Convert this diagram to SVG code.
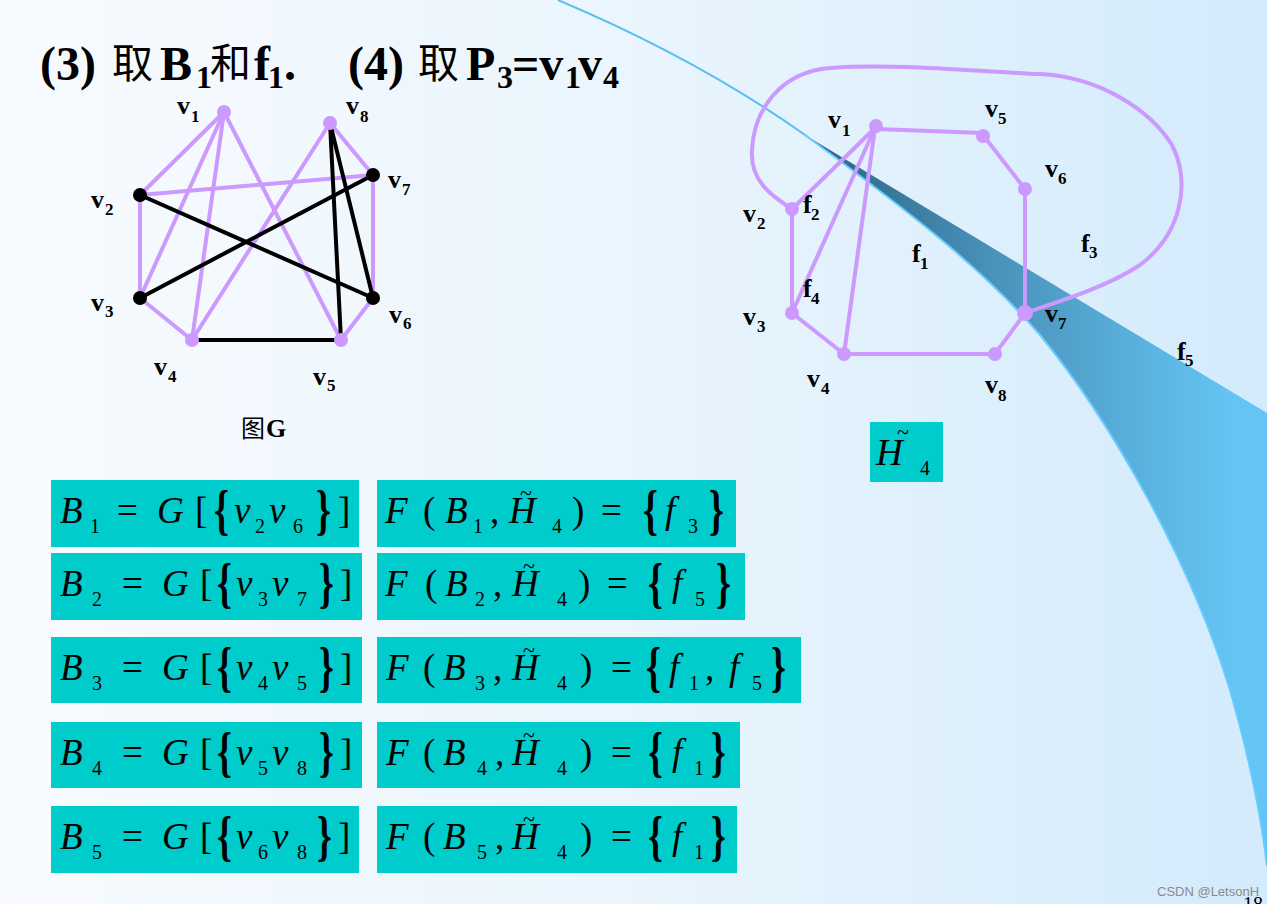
<svg xmlns="http://www.w3.org/2000/svg" width="1267" height="904" viewBox="0 0 1267 904">
<defs>
<linearGradient id="bg" x1="0" y1="0" x2="1267" y2="0" gradientUnits="userSpaceOnUse">
<stop offset="0" stop-color="#f8fbfe"/><stop offset="0.5" stop-color="#eaf5fd"/><stop offset="1" stop-color="#d3ebfc"/>
</linearGradient>
<linearGradient id="sw" x1="810" y1="0" x2="1230" y2="0" gradientUnits="userSpaceOnUse">
<stop offset="0" stop-color="#2b6482"/><stop offset="0.45" stop-color="#4a93bb"/><stop offset="1" stop-color="#64c4f4"/>
</linearGradient>
<style>
.pe{stroke:#cc99ff;stroke-width:4;fill:none;stroke-linecap:round}
.be{stroke:#000;stroke-width:4;fill:none;stroke-linecap:round}
.pn{fill:#cc99ff}
.bn{fill:#000}
.lb{font-family:"Liberation Serif",serif;font-weight:bold;font-size:26px;fill:#000}
.ls{font-size:17px}
.t{font-family:"Liberation Serif",serif;font-weight:bold;font-size:48px;fill:#000}
.ts{font-size:32px}
.cj{font-family:"Noto Sans CJK SC",sans-serif;font-weight:normal}
.box{fill:#00cccc}
.m{font-family:"Liberation Serif",serif;font-style:italic;font-size:37px;fill:#000}
.r{font-style:normal}
.s{font-style:normal;font-size:20px}
.tl{font-style:normal;font-size:22px}
.br{font-family:"Liberation Serif",serif;font-weight:bold;font-size:54px;fill:#000}
</style>
</defs>
<rect x="0" y="0" width="1267" height="904" fill="url(#bg)"/>
<g id="swoosh">
<path d="M558,0 Q700,60 808,137" fill="none" stroke="#5bc0f0" stroke-width="2"/>
<path d="M805,135 L1267,413 L1267,866 C1262,822 1250,760 1230,690 C1190,560 1110,420 1040,335 C980,265 900,205 805,135 Z" fill="url(#sw)"/>
<path d="M805,135 C900,205 980,265 1040,335 C1110,420 1190,560 1230,690 C1250,760 1262,822 1267,866" fill="none" stroke="#66ccff" stroke-width="2"/>
</g>
<g id="title">
<text class="t"><tspan x="40" y="80">(3)</tspan><tspan class="cj" x="112" y="78" font-size="41">取</tspan><tspan x="160" y="80">B</tspan><tspan class="ts" x="196" y="88">1</tspan><tspan class="cj" x="210" y="78" font-size="41">和</tspan><tspan x="254" y="80">f</tspan><tspan class="ts" x="268" y="88">1</tspan><tspan x="284" y="80">.</tspan></text>
<text class="t"><tspan x="348" y="80">(4)</tspan><tspan class="cj" x="418" y="78" font-size="41">取</tspan><tspan x="466" y="80">P</tspan><tspan class="ts" x="497" y="88">3</tspan><tspan x="512" y="80">=v</tspan><tspan class="ts" x="565" y="88">1</tspan><tspan x="578" y="80">v</tspan><tspan class="ts" x="603" y="88">4</tspan></text>
</g>
<g id="graphG-edges">
<line class="pe" x1="224" y1="112" x2="140" y2="195"/>
<line class="pe" x1="224" y1="112" x2="140" y2="298"/>
<line class="pe" x1="224" y1="112" x2="192" y2="340"/>
<line class="pe" x1="224" y1="112" x2="341" y2="340"/>
<line class="pe" x1="140" y1="195" x2="373" y2="175"/>
<line class="pe" x1="140" y1="195" x2="140" y2="298"/>
<line class="pe" x1="140" y1="298" x2="192" y2="340"/>
<line class="pe" x1="330" y1="123" x2="192" y2="340"/>
<line class="pe" x1="330" y1="123" x2="373" y2="175"/>
<line class="pe" x1="373" y1="175" x2="373" y2="298"/>
<line class="pe" x1="373" y1="298" x2="341" y2="340"/>
<line class="be" x1="140" y1="195" x2="373" y2="298"/>
<line class="be" x1="140" y1="298" x2="373" y2="175"/>
<line class="be" x1="192" y1="340" x2="341" y2="340"/>
<line class="be" x1="330" y1="123" x2="373" y2="298"/>
<line class="be" x1="330" y1="123" x2="341" y2="340"/>
</g>
<g id="g-v1"><circle class="pn" cx="224" cy="112" r="7"/><text class="lb"><tspan x="177" y="114">v</tspan><tspan class="ls" x="191" y="122">1</tspan></text></g>
<g id="g-v8"><circle class="pn" cx="330" cy="123" r="7"/><text class="lb"><tspan x="346" y="114">v</tspan><tspan class="ls" x="360" y="122">8</tspan></text></g>
<g id="g-v7"><circle class="bn" cx="373" cy="175" r="7"/><text class="lb"><tspan x="388" y="188">v</tspan><tspan class="ls" x="402" y="195">7</tspan></text></g>
<g id="g-v2"><circle class="bn" cx="140" cy="195" r="7"/><text class="lb"><tspan x="91" y="208">v</tspan><tspan class="ls" x="105" y="215">2</tspan></text></g>
<g id="g-v3"><circle class="bn" cx="140" cy="298" r="7"/><text class="lb"><tspan x="91" y="311">v</tspan><tspan class="ls" x="105" y="317">3</tspan></text></g>
<g id="g-v6"><circle class="bn" cx="373" cy="298" r="7"/><text class="lb"><tspan x="389" y="323">v</tspan><tspan class="ls" x="403" y="329">6</tspan></text></g>
<g id="g-v4"><circle class="pn" cx="192" cy="340" r="7"/><text class="lb"><tspan x="154" y="375">v</tspan><tspan class="ls" x="168" y="382">4</tspan></text></g>
<g id="g-v5"><circle class="pn" cx="341" cy="340" r="7"/><text class="lb"><tspan x="313" y="385">v</tspan><tspan class="ls" x="327" y="391">5</tspan></text></g>
<g id="g-caption"><text class="lb" font-size="26"><tspan class="cj" x="241" y="437" font-size="24">图</tspan><tspan x="266" y="437">G</tspan></text></g>
<g id="graphH-edges">
<path class="pe" d="M792,209 C770,195 750,180 752,150 C754,110 780,72 830,68 C900,63 980,72 1040,74 C1100,77 1150,110 1172,145 C1192,185 1180,235 1140,265 C1110,285 1070,298 1025,313"/>
<line class="pe" x1="876" y1="129" x2="983" y2="133"/>
<line class="pe" x1="983" y1="135" x2="1025" y2="189"/>
<line class="pe" x1="1025" y1="189" x2="1025" y2="313"/>
<line class="pe" x1="1025" y1="313" x2="995" y2="354"/>
<line class="pe" x1="995" y1="354" x2="844" y2="354"/>
<line class="pe" x1="844" y1="354" x2="792" y2="313"/>
<line class="pe" x1="792" y1="313" x2="792" y2="209"/>
<line class="pe" x1="792" y1="209" x2="875" y2="128"/>
<line class="pe" x1="792" y1="313" x2="875" y2="128"/>
<line class="pe" x1="844" y1="354" x2="875" y2="128"/>
</g>
<g id="h-v1"><circle class="pn" cx="876" cy="126" r="7"/><text class="lb"><tspan x="828" y="128">v</tspan><tspan class="ls" x="842" y="136">1</tspan></text></g>
<g id="h-v5"><circle class="pn" cx="983" cy="136" r="7"/><text class="lb"><tspan x="985" y="117">v</tspan><tspan class="ls" x="998" y="124">5</tspan></text></g>
<g id="h-v6"><circle class="pn" cx="1025" cy="189" r="7"/><text class="lb"><tspan x="1045" y="177">v</tspan><tspan class="ls" x="1058" y="184">6</tspan></text></g>
<g id="h-v7"><circle class="pn" cx="1025" cy="313" r="8"/><text class="lb"><tspan x="1045" y="322">v</tspan><tspan class="ls" x="1058" y="329">7</tspan></text></g>
<g id="h-v8"><circle class="pn" cx="995" cy="354" r="7"/><text class="lb"><tspan x="985" y="393">v</tspan><tspan class="ls" x="998" y="401">8</tspan></text></g>
<g id="h-v4"><circle class="pn" cx="844" cy="354" r="7"/><text class="lb"><tspan x="807" y="387">v</tspan><tspan class="ls" x="821" y="394">4</tspan></text></g>
<g id="h-v3"><circle class="pn" cx="792" cy="313" r="7"/><text class="lb"><tspan x="743" y="325">v</tspan><tspan class="ls" x="757" y="332">3</tspan></text></g>
<g id="h-v2"><circle class="pn" cx="792" cy="209" r="7"/><text class="lb"><tspan x="743" y="222">v</tspan><tspan class="ls" x="757" y="229">2</tspan></text></g>
<g id="faces">
<text class="lb"><tspan x="803" y="213">f</tspan><tspan class="ls" x="811" y="220">2</tspan></text>
<text class="lb"><tspan x="803" y="297">f</tspan><tspan class="ls" x="811" y="304">4</tspan></text>
<text class="lb"><tspan x="912" y="262">f</tspan><tspan class="ls" x="920" y="269">1</tspan></text>
<text class="lb"><tspan x="1081" y="252">f</tspan><tspan class="ls" x="1089" y="258">3</tspan></text>
<text class="lb"><tspan x="1177" y="360">f</tspan><tspan class="ls" x="1185" y="366">5</tspan></text>
</g>
<g id="h4-label">
<rect class="box" x="870" y="422" width="73" height="60"/>
<text class="m" font-size="38"><tspan x="876" y="465">H</tspan><tspan class="tl" x="897" y="439">~</tspan><tspan class="s" x="920" y="475">4</tspan></text>
</g>
<g id="B1">
<rect class="box" x="51" y="480" width="308" height="67"/>
<text class="m"><tspan x="60" y="523">B</tspan><tspan class="s" x="90" y="533">1</tspan><tspan class="r" x="117" y="523">=</tspan><tspan x="157" y="523">G</tspan><tspan class="r" x="195" y="523">[</tspan><tspan x="234" y="523">v</tspan><tspan class="s" x="255" y="533">2</tspan><tspan x="269" y="523">v</tspan><tspan class="s" x="293" y="533">6</tspan><tspan class="r" x="338" y="523">]</tspan></text>
<text class="br" transform="translate(214,528) scale(0.7,1)">{</text><text class="br" transform="translate(316,528) scale(0.7,1)">}</text>
</g>
<g id="F1">
<rect class="box" x="377" y="480" width="359" height="67"/>
<text class="m"><tspan x="385" y="523">F</tspan><tspan class="r" x="423" y="523">(</tspan><tspan x="445" y="523">B</tspan><tspan class="s" x="473" y="533">1</tspan><tspan class="r" x="490" y="523">,</tspan><tspan x="509" y="523">H</tspan><tspan class="tl" x="520" y="500">~</tspan><tspan class="s" x="552" y="533">4</tspan><tspan class="r" x="572" y="523">)</tspan><tspan class="r" x="601" y="523">=</tspan><tspan x="665" y="523">f</tspan><tspan class="s" x="688" y="533">3</tspan></text>
<text class="br" transform="translate(643,528) scale(0.7,1)">{</text><text class="br" transform="translate(709,528) scale(0.7,1)">}</text>
</g>
<g id="B2">
<rect class="box" x="51" y="553" width="311" height="67"/>
<text class="m"><tspan x="60" y="596">B</tspan><tspan class="s" x="92" y="606">2</tspan><tspan class="r" x="122" y="596">=</tspan><tspan x="162" y="596">G</tspan><tspan class="r" x="200" y="596">[</tspan><tspan x="236" y="596">v</tspan><tspan class="s" x="258" y="606">3</tspan><tspan x="272" y="596">v</tspan><tspan class="s" x="297" y="606">7</tspan><tspan class="r" x="340" y="596">]</tspan></text>
<text class="br" transform="translate(217,601) scale(0.7,1)">{</text><text class="br" transform="translate(319,601) scale(0.7,1)">}</text>
</g>
<g id="F2">
<rect class="box" x="377" y="553" width="368" height="67"/>
<text class="m"><tspan x="385" y="596">F</tspan><tspan class="r" x="425" y="596">(</tspan><tspan x="445" y="596">B</tspan><tspan class="s" x="475" y="606">2</tspan><tspan class="r" x="493" y="596">,</tspan><tspan x="512" y="596">H</tspan><tspan class="tl" x="523" y="573">~</tspan><tspan class="s" x="557" y="606">4</tspan><tspan class="r" x="578" y="596">)</tspan><tspan class="r" x="607" y="596">=</tspan><tspan x="672" y="596">f</tspan><tspan class="s" x="695" y="606">5</tspan></text>
<text class="br" transform="translate(648,601) scale(0.7,1)">{</text><text class="br" transform="translate(716,601) scale(0.7,1)">}</text>
</g>
<g id="B3">
<rect class="box" x="51" y="637" width="311" height="66"/>
<text class="m"><tspan x="60" y="680">B</tspan><tspan class="s" x="92" y="690">3</tspan><tspan class="r" x="122" y="680">=</tspan><tspan x="162" y="680">G</tspan><tspan class="r" x="200" y="680">[</tspan><tspan x="236" y="680">v</tspan><tspan class="s" x="258" y="690">4</tspan><tspan x="272" y="680">v</tspan><tspan class="s" x="297" y="690">5</tspan><tspan class="r" x="340" y="680">]</tspan></text>
<text class="br" transform="translate(217,685) scale(0.7,1)">{</text><text class="br" transform="translate(319,685) scale(0.7,1)">}</text>
</g>
<g id="F3">
<rect class="box" x="377" y="637" width="424" height="66"/>
<text class="m"><tspan x="386" y="680">F</tspan><tspan class="r" x="423" y="680">(</tspan><tspan x="443" y="680">B</tspan><tspan class="s" x="475" y="690">3</tspan><tspan class="r" x="493" y="680">,</tspan><tspan x="512" y="680">H</tspan><tspan class="tl" x="523" y="657">~</tspan><tspan class="s" x="557" y="690">4</tspan><tspan class="r" x="580" y="680">)</tspan><tspan class="r" x="611" y="680">=</tspan><tspan x="669" y="680">f</tspan><tspan class="s" x="689" y="690">1</tspan><tspan class="r" x="705" y="680">,</tspan><tspan x="729" y="680">f</tspan><tspan class="s" x="752" y="690">5</tspan></text>
<text class="br" transform="translate(646,685) scale(0.7,1)">{</text><text class="br" transform="translate(771,685) scale(0.7,1)">}</text>
</g>
<g id="B4">
<rect class="box" x="51" y="722" width="311" height="66"/>
<text class="m"><tspan x="60" y="765">B</tspan><tspan class="s" x="92" y="775">4</tspan><tspan class="r" x="122" y="765">=</tspan><tspan x="162" y="765">G</tspan><tspan class="r" x="200" y="765">[</tspan><tspan x="236" y="765">v</tspan><tspan class="s" x="258" y="775">5</tspan><tspan x="272" y="765">v</tspan><tspan class="s" x="297" y="775">8</tspan><tspan class="r" x="340" y="765">]</tspan></text>
<text class="br" transform="translate(217,770) scale(0.7,1)">{</text><text class="br" transform="translate(319,770) scale(0.7,1)">}</text>
</g>
<g id="F4">
<rect class="box" x="377" y="722" width="363" height="66"/>
<text class="m"><tspan x="386" y="765">F</tspan><tspan class="r" x="423" y="765">(</tspan><tspan x="443" y="765">B</tspan><tspan class="s" x="477" y="775">4</tspan><tspan class="r" x="495" y="765">,</tspan><tspan x="512" y="765">H</tspan><tspan class="tl" x="523" y="742">~</tspan><tspan class="s" x="557" y="775">4</tspan><tspan class="r" x="580" y="765">)</tspan><tspan class="r" x="611" y="765">=</tspan><tspan x="672" y="765">f</tspan><tspan class="s" x="694" y="775">1</tspan></text>
<text class="br" transform="translate(648,770) scale(0.7,1)">{</text><text class="br" transform="translate(711,770) scale(0.7,1)">}</text>
</g>
<g id="B5">
<rect class="box" x="51" y="806" width="308" height="67"/>
<text class="m"><tspan x="60" y="849">B</tspan><tspan class="s" x="92" y="859">5</tspan><tspan class="r" x="122" y="849">=</tspan><tspan x="162" y="849">G</tspan><tspan class="r" x="200" y="849">[</tspan><tspan x="236" y="849">v</tspan><tspan class="s" x="258" y="859">6</tspan><tspan x="272" y="849">v</tspan><tspan class="s" x="297" y="859">8</tspan><tspan class="r" x="338" y="849">]</tspan></text>
<text class="br" transform="translate(217,854) scale(0.7,1)">{</text><text class="br" transform="translate(317,854) scale(0.7,1)">}</text>
</g>
<g id="F5">
<rect class="box" x="377" y="806" width="360" height="67"/>
<text class="m"><tspan x="386" y="849">F</tspan><tspan class="r" x="423" y="849">(</tspan><tspan x="443" y="849">B</tspan><tspan class="s" x="477" y="859">5</tspan><tspan class="r" x="495" y="849">,</tspan><tspan x="512" y="849">H</tspan><tspan class="tl" x="523" y="826">~</tspan><tspan class="s" x="557" y="859">4</tspan><tspan class="r" x="580" y="849">)</tspan><tspan class="r" x="611" y="849">=</tspan><tspan x="672" y="849">f</tspan><tspan class="s" x="694" y="859">1</tspan></text>
<text class="br" transform="translate(648,854) scale(0.7,1)">{</text><text class="br" transform="translate(711,854) scale(0.7,1)">}</text>
</g>
<g id="footer">
<text x="1157" y="896" font-family="Liberation Sans, sans-serif" font-size="13" fill="#8a8a8a">CSDN @LetsonH</text>
<text x="1243" y="911" font-family="Liberation Serif, serif" font-size="20" fill="#000">18</text>
</g>
</svg>
